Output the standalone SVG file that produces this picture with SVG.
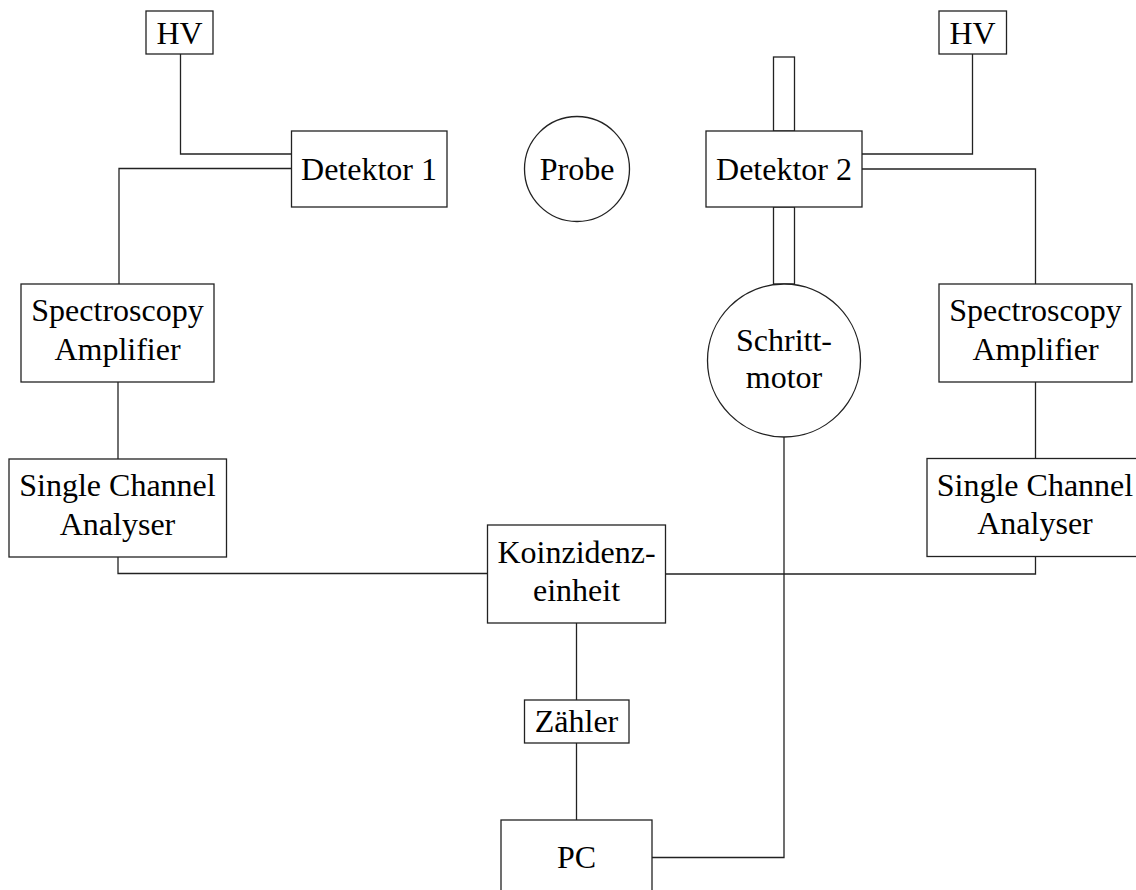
<svg xmlns="http://www.w3.org/2000/svg" width="1136" height="890" viewBox="0 0 1136 890">
<style>
.b{fill:#fff;stroke:#222;stroke-width:1.3}
.c{fill:none;stroke:#222;stroke-width:1.3}
text{font-family:"Liberation Serif","Times New Roman",serif;font-size:32px;fill:#000;text-anchor:middle}
</style>
<rect width="1136" height="890" fill="#fff"/>
<g id="connectors" class="c">
<polyline points="180.5,54 180.5,154 291.5,154"/>
<polyline points="291.5,168.5 119,168.5 119,284"/>
<line x1="118" y1="382" x2="118" y2="459"/>
<polyline points="118,557 118,573.5 487,573.5"/>
<polyline points="972.5,54 972.5,154 862,154"/>
<polyline points="862,169 1035.5,169 1035.5,284"/>
<line x1="1035.5" y1="382" x2="1035.5" y2="458.5"/>
<polyline points="1035.5,557 1035.5,574 666,574"/>
<line x1="576.5" y1="623" x2="576.5" y2="700"/>
<line x1="576.5" y1="743" x2="576.5" y2="820"/>
<polyline points="784,437 784,857.5 652,857.5"/>
</g>
<g id="hv1"><rect class="b" x="146" y="11" width="67" height="43"/><text x="179.5" y="44">HV</text></g>
<g id="hv2"><rect class="b" x="939" y="11" width="67.5" height="43"/><text x="972.5" y="44">HV</text></g>
<g id="detektor1"><rect class="b" x="291.5" y="131" width="155.5" height="76"/><text x="369" y="180">Detektor 1</text></g>
<g id="probe"><circle class="b" cx="577" cy="169" r="52.5"/><text x="577" y="179.5">Probe</text></g>
<g id="rod">
<rect class="b" x="773.5" y="57" width="21" height="74"/>
<rect class="b" x="773.5" y="207" width="21" height="77"/>
</g>
<g id="detektor2"><rect class="b" x="706" y="131" width="156" height="76"/><text x="784" y="180">Detektor 2</text></g>
<g id="schrittmotor"><circle class="b" cx="784" cy="360.5" r="76.5"/><text x="784" y="351">Schritt-</text><text x="784" y="388">motor</text></g>
<g id="amp1"><rect class="b" x="21" y="284" width="193" height="98"/><text x="117.5" y="320.5">Spectroscopy</text><text x="117.5" y="360">Amplifier</text></g>
<g id="amp2"><rect class="b" x="939" y="284" width="193" height="98"/><text x="1035.5" y="320.5">Spectroscopy</text><text x="1035.5" y="360">Amplifier</text></g>
<g id="sca1"><rect class="b" x="9" y="459" width="217.5" height="98"/><text x="117.5" y="496">Single Channel</text><text x="117.5" y="535">Analyser</text></g>
<g id="sca2"><rect class="b" x="927" y="458.5" width="218" height="98"/><text x="1035" y="495.5">Single Channel</text><text x="1035" y="534">Analyser</text></g>
<g id="koinzidenz"><rect class="b" x="487.5" y="525" width="178" height="98"/><text x="576.5" y="563">Koinzidenz-</text><text x="576.5" y="601">einheit</text></g>
<g id="zaehler"><rect class="b" x="524.5" y="700" width="104.5" height="43"/><text x="576.5" y="731.5">Zähler</text></g>
<g id="pc"><rect class="b" x="501" y="820" width="151" height="90"/><text x="576.5" y="867.5">PC</text></g>
</svg>
